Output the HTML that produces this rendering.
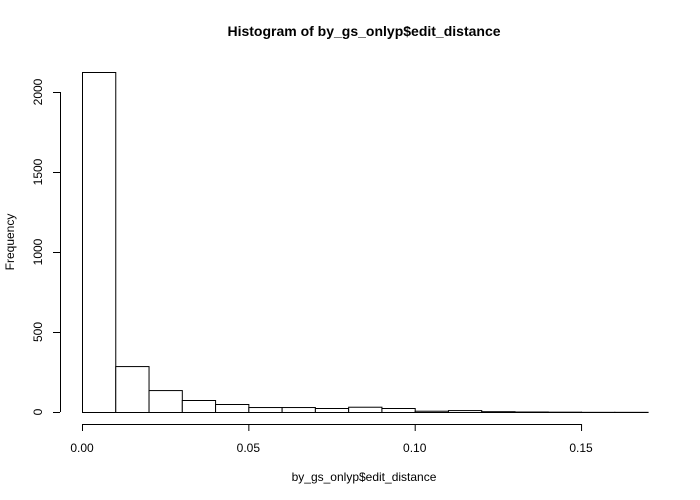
<!DOCTYPE html>
<html><head><meta charset="utf-8"><style>
body{margin:0;background:#fff;}
svg{display:block;font-family:"Liberation Sans",sans-serif;}
</style></head><body>
<svg id="c" width="700" height="500">
<text x="364" y="36" text-anchor="middle" font-weight="bold" font-size="14">Histogram of by_gs_onlyp$edit_distance</text>
<text x="364" y="481" text-anchor="middle" font-size="12">by_gs_onlyp$edit_distance</text>
<text transform="translate(14,242) rotate(-90)" text-anchor="middle" font-size="12">Frequency</text>
<g id="bars"></g><g id="xa"></g><g id="ya"></g>
</svg>
<script>
const breaks=[0,0.01,0.02,0.03,0.04,0.05,0.06,0.07,0.08,0.09,0.10,0.11,0.12,0.13,0.14,0.15,0.16,0.17];
const counts=[2125,287,137,75,50,31,31,25,33,25,8,12,5,3,2,1,1];
const xTicks=[0,0.05,0.10,0.15];
const xTickLabels=["0.00","0.05","0.10","0.15"];
const yTicks=[0,500,1000,1500,2000];
const NS="http://www.w3.org/2000/svg";
const xs=v=>82+v*3327;
const ys=v=>412-v*0.16;
function mk(t,a,p){const e=document.createElementNS(NS,t);for(const k in a)e.setAttribute(k,a[k]);p.appendChild(e);return e;}
const bg=document.getElementById('bars');
counts.forEach((c,i)=>{
 const r=mk('rect',{x:xs(breaks[i])+0.5,y:ys(c)+0.5,width:xs(breaks[i+1])-xs(breaks[i]),height:ys(0)-ys(c),fill:'#fff',stroke:'#000','stroke-width':1},bg);
 
 
});
const xa=document.getElementById('xa');
mk('line',{x1:xs(xTicks[0]),x2:xs(xTicks[xTicks.length-1]),y1:424.5,y2:424.5,stroke:'#000'},xa);
xTicks.forEach((t,i)=>{
 mk('line',{x1:xs(t)+0.5,x2:xs(t)+0.5,y1:424,y2:431,stroke:'#000'},xa);
 const tx=mk('text',{x:xs(t),y:452,'text-anchor':'middle','font-size':12},xa);
 tx.textContent=xTickLabels[i];
 
 
});
const ya=document.getElementById('ya');
mk('line',{x1:60.5,x2:60.5,y1:ys(yTicks[0]),y2:ys(yTicks[yTicks.length-1]),stroke:'#000'},ya);
yTicks.forEach(t=>{
 mk('line',{x1:53,x2:60,y1:ys(t)+0.5,y2:ys(t)+0.5,stroke:'#000'},ya);
 const tx=mk('text',{transform:`translate(42,${ys(t)}) rotate(-90)`,'text-anchor':'middle','font-size':12},ya);
 tx.textContent=t;
 
 
});
</script>
</body></html>
